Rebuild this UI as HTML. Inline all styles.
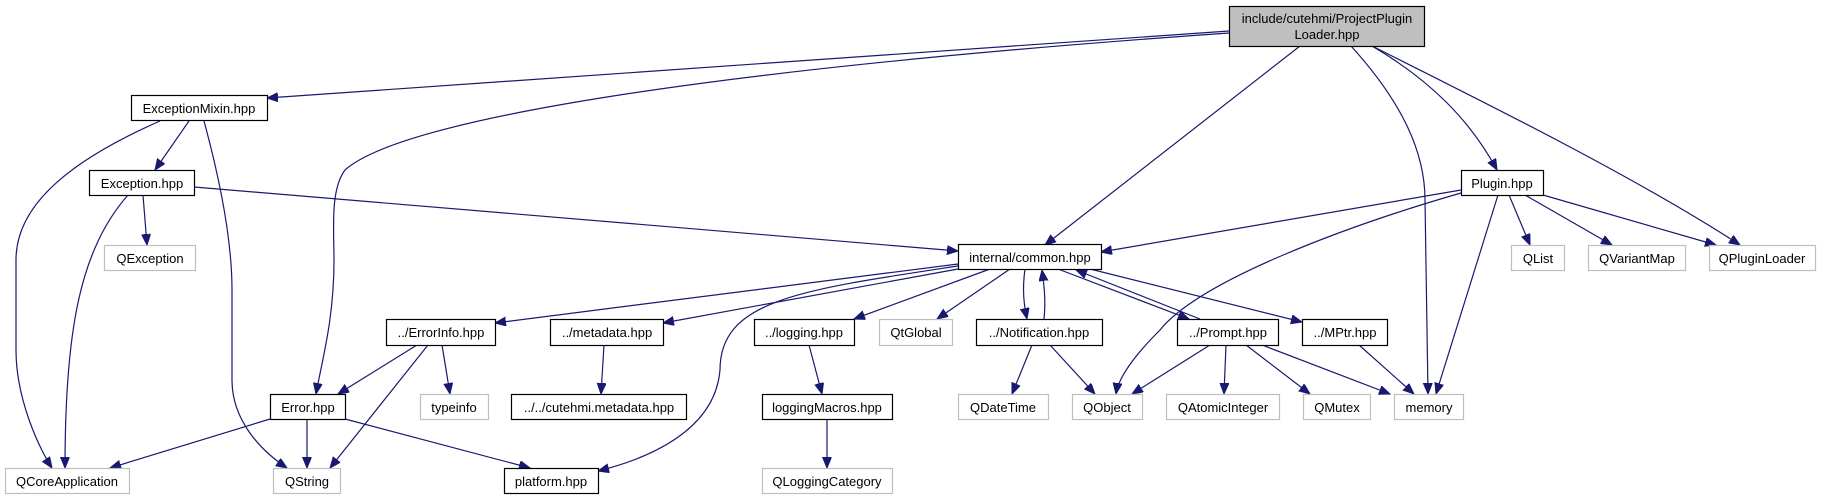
<!DOCTYPE html>
<html><head><meta charset="utf-8"><style>
html,body{margin:0;padding:0;background:#fff;}
svg{display:block;}
text{font-family:"Liberation Sans",Arial,sans-serif;font-size:13px;fill:#000;}
.n{fill:#fff;stroke:#000;stroke-width:1.2;}
.g{fill:#fff;stroke:#bfbfbf;stroke-width:1.2;}
.e{fill:none;stroke:#191970;stroke-width:1.2;marker-end:url(#a);}
</style></head><body>
<svg width="1827" height="500" viewBox="0 0 1827 500" xmlns="http://www.w3.org/2000/svg">
<defs><marker id="a" markerUnits="userSpaceOnUse" markerWidth="12" markerHeight="10" refX="11" refY="4.5" orient="auto"><path d="M0,0 L11,4.5 L0,9 Z" fill="#191970" stroke="#191970"/></marker></defs>
<!-- edges -->
<path class="e" d="M1229,31 L267,98"/>
<path class="e" d="M1229,33 C700,70 400,120 345,170 C330,190 334,230 334,260 C334,320 322,360 316,394"/>
<path class="e" d="M1300,46 L1045,245"/>
<path class="e" d="M1351,46 C1400,100 1425,150 1425,200 L1428,394"/>
<path class="e" d="M1372,46 C1430,80 1470,120 1497,170"/>
<path class="e" d="M1372,46 C1500,110 1640,180 1740,245"/>
<path class="e" d="M160,121 C60,165 16,210 16,260 L16,350 C16,400 40,450 52,468"/>
<path class="e" d="M189,121 L155,170"/>
<path class="e" d="M204,121 C220,180 232,240 232,290 L232,380 C232,420 260,450 287,468"/>
<path class="e" d="M143,195 L147,245"/>
<path class="e" d="M128,195 C80,250 65,330 65,468"/>
<path class="e" d="M194,187 L958,251"/>
<path class="e" d="M958,264 L495,323"/>
<path class="e" d="M958,269 L663,323"/>
<path class="e" d="M958,266 C800,290 720,300 720,370 C715,430 650,458 598,471"/>
<path class="e" d="M990,269 L854,319"/>
<path class="e" d="M1010,269 L937,319"/>
<path class="e" d="M1025,269 C1022,290 1024,305 1027,319"/>
<path class="e" d="M1044,319 C1046,300 1044,285 1042,270"/>
<path class="e" d="M1058,269 L1189,319"/>
<path class="e" d="M1200,319 L1076,270"/>
<path class="e" d="M1090,269 L1302,322"/>
<path class="e" d="M417,345 L338,394"/>
<path class="e" d="M428,345 L330,468"/>
<path class="e" d="M442,345 L450,394"/>
<path class="e" d="M604,345 L601,394"/>
<path class="e" d="M270,419 L110,468"/>
<path class="e" d="M307,419 L307,468"/>
<path class="e" d="M345,419 L530,468"/>
<path class="e" d="M809,345 L822,394"/>
<path class="e" d="M827,419 L827,468"/>
<path class="e" d="M1032,345 L1012,394"/>
<path class="e" d="M1050,345 L1095,394"/>
<path class="e" d="M1210,345 L1132,394"/>
<path class="e" d="M1226,345 L1224,394"/>
<path class="e" d="M1246,345 L1310,394"/>
<path class="e" d="M1262,345 L1390,394"/>
<path class="e" d="M1359,345 L1414,394"/>
<path class="e" d="M1461,190 L1101,252"/>
<path class="e" d="M1461,193 C1350,225 1200,280 1160,330 C1130,360 1118,380 1116,394"/>
<path class="e" d="M1498,195 L1436,394"/>
<path class="e" d="M1509,195 L1530,245"/>
<path class="e" d="M1525,195 L1612,245"/>
<path class="e" d="M1543,195 L1716,245"/>
<!-- nodes -->
<rect x="1229.5" y="6.5" width="195" height="40" fill="#bfbfbf" stroke="#000" stroke-width="1.2"/>
<text x="1327" y="23" text-anchor="middle">include/cutehmi/ProjectPlugin</text>
<text x="1327" y="39" text-anchor="middle">Loader.hpp</text>
<rect class="n" x="131.5" y="95.5" width="136" height="25"/><text x="199" y="113" text-anchor="middle">ExceptionMixin.hpp</text>
<rect class="n" x="89.5" y="170.5" width="105" height="25"/><text x="142" y="188" text-anchor="middle">Exception.hpp</text>
<rect class="g" x="104.5" y="245.5" width="91" height="25"/><text x="150" y="263" text-anchor="middle" fill="#000">QException</text>
<rect class="n" x="958.5" y="244.5" width="143" height="25"/><text x="1030" y="262" text-anchor="middle">internal/common.hpp</text>
<rect class="n" x="1461.5" y="170.5" width="82" height="25"/><text x="1502" y="188" text-anchor="middle">Plugin.hpp</text>
<rect class="g" x="1511.5" y="245.5" width="53" height="25"/><text x="1538" y="263" text-anchor="middle">QList</text>
<rect class="g" x="1588.5" y="245.5" width="97" height="25"/><text x="1637" y="263" text-anchor="middle">QVariantMap</text>
<rect class="g" x="1709.5" y="245.5" width="106" height="25"/><text x="1762" y="263" text-anchor="middle">QPluginLoader</text>
<rect class="n" x="386.5" y="319.5" width="109" height="26"/><text x="441" y="337" text-anchor="middle">../ErrorInfo.hpp</text>
<rect class="n" x="550.5" y="319.5" width="113" height="26"/><text x="607" y="337" text-anchor="middle">../metadata.hpp</text>
<rect class="n" x="754.5" y="319.5" width="100" height="26"/><text x="804" y="337" text-anchor="middle">../logging.hpp</text>
<rect class="g" x="879.5" y="319.5" width="73" height="26"/><text x="916" y="337" text-anchor="middle">QtGlobal</text>
<rect class="n" x="976.5" y="319.5" width="126" height="26"/><text x="1039" y="337" text-anchor="middle">../Notification.hpp</text>
<rect class="n" x="1177.5" y="319.5" width="101" height="26"/><text x="1228" y="337" text-anchor="middle">../Prompt.hpp</text>
<rect class="n" x="1302.5" y="319.5" width="85" height="26"/><text x="1345" y="337" text-anchor="middle">../MPtr.hpp</text>
<rect class="n" x="270.5" y="394.5" width="75" height="25"/><text x="308" y="412" text-anchor="middle">Error.hpp</text>
<rect class="g" x="420.5" y="394.5" width="68" height="25"/><text x="454" y="412" text-anchor="middle">typeinfo</text>
<rect class="n" x="511.5" y="394.5" width="175" height="25"/><text x="599" y="412" text-anchor="middle">../../cutehmi.metadata.hpp</text>
<rect class="n" x="762.5" y="394.5" width="130" height="25"/><text x="827" y="412" text-anchor="middle">loggingMacros.hpp</text>
<rect class="g" x="958.5" y="394.5" width="90" height="25"/><text x="1003" y="412" text-anchor="middle">QDateTime</text>
<rect class="g" x="1072.5" y="394.5" width="70" height="25"/><text x="1107" y="412" text-anchor="middle">QObject</text>
<rect class="g" x="1166.5" y="394.5" width="113" height="25"/><text x="1223" y="412" text-anchor="middle">QAtomicInteger</text>
<rect class="g" x="1303.5" y="394.5" width="67" height="25"/><text x="1337" y="412" text-anchor="middle">QMutex</text>
<rect class="g" x="1394.5" y="394.5" width="69" height="25"/><text x="1429" y="412" text-anchor="middle">memory</text>
<rect class="g" x="5.5" y="468.5" width="124" height="25"/><text x="67" y="486" text-anchor="middle">QCoreApplication</text>
<rect class="g" x="273.5" y="468.5" width="67" height="25"/><text x="307" y="486" text-anchor="middle">QString</text>
<rect class="n" x="504.5" y="468.5" width="94" height="25"/><text x="551" y="486" text-anchor="middle">platform.hpp</text>
<rect class="g" x="762.5" y="468.5" width="130" height="25"/><text x="827" y="486" text-anchor="middle">QLoggingCategory</text>
</svg>
</body></html>
